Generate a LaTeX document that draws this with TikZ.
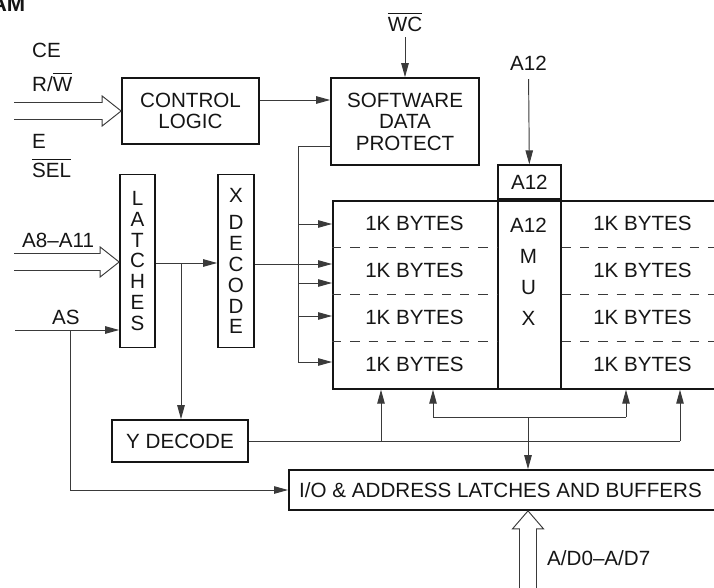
\documentclass[tikz,border=0pt]{standalone}
\usepackage{fontspec}
\setmainfont{Liberation Sans}
\usetikzlibrary{arrows.meta}
\definecolor{boxc}{HTML}{151515}
\definecolor{linec}{HTML}{3A3A3A}
\definecolor{txt}{HTML}{151515}
\newcommand\myovl[1]{\setbox0\hbox{#1}\rlap{\raisebox{\dimexpr\ht0+3.5pt\relax}{\rule{\wd0}{1.1pt}}}\box0}
\tikzset{
  box/.style={draw=boxc, line width=1.7pt, inner sep=0pt, text=txt},
  conn/.style={draw=linec, line width=0.95pt},
  arr/.style={conn, -{Triangle[length=14pt,width=7.5pt]}},
  lbl/.style={inner sep=0pt, text=txt},
  dashline/.style={draw=linec, line width=0.9pt, dash pattern=on 9.3pt off 9pt},
}
\begin{document}
\begin{tikzpicture}[x=1pt,y=-1pt,font=\fontsize{20.6}{21.5}\selectfont]
\useasboundingbox (0,0) rectangle (714,588);
\clip (0,0) rectangle (714,588);

% title fragment
\node[lbl, anchor=base east, font=\fontsize{22}{24}\selectfont\bfseries] (title) at (25.5,12) {AM};

% boxes
\node[box, minimum width=137pt, minimum height=66pt, align=center] (ctrl) at (190.5,111) {CONTROL\\LOGIC};
\node[box, minimum width=148pt, minimum height=87pt, align=center] (sdp) at (405,121.5) {SOFTWARE\\DATA\\PROTECT};
\node[box, minimum width=35pt, minimum height=173pt, align=center, font=\fontsize{20.6}{20.7}\selectfont] (latch) at (137.5,261) {L\\A\\T\\C\\H\\E\\S};
\node[box, minimum width=36pt, minimum height=173pt, align=center, font=\fontsize{20.6}{20.8}\selectfont] (xdec) at (236,261) {X\\[7pt]D\\E\\C\\O\\D\\E};
\node[box, minimum width=398pt, minimum height=188pt, anchor=north west] (mem) at (332,200) {};
\node[box, minimum width=63pt, minimum height=188pt, anchor=north west] (mux) at (497,200) {};
\node[lbl, align=center, font=\fontsize{20.6}{31}\selectfont] (muxtext) at (528.5,271.5) {A12\\M\\U\\X};
\node[box, minimum width=63pt, minimum height=34pt, anchor=south west] (a12b) at (497,200) {A12};
\node[box, minimum width=136pt, minimum height=42pt] (ydec) at (180,441) {Y DECODE};
\node[box, minimum width=442pt, minimum height=40pt, anchor=west] (io) at (288,490) {};
\node[lbl] (iotext) at (500.5,490.5) {I/O \& ADDRESS LATCHES AND BUFFERS};

% memory cells
\foreach \y [count=\i] in {223,270,317,364} {
  \node[lbl] (cl\i) at (414.5,\y) {1K BYTES};
  \node[lbl] (cr\i) at (642.5,\y) {1K BYTES};
}
\foreach \y in {247,294,341} {
  \draw[dashline] (mem.west |- 0,\y) -- (mux.west |- 0,\y);
  \draw[dashline] (mux.east |- 0,\y) -- (mem.east |- 0,\y);
}

% labels
\node[lbl, anchor=base west] (ce) at (32,58) {CE};
\node[lbl, anchor=base west] (rw) at (32,92) {R/\myovl{W}};
\node[lbl, anchor=base west] (e) at (32,149) {E};
\node[lbl, anchor=base west] (sel) at (32,178) {\myovl{SEL}};
\node[lbl, anchor=base west] (a8) at (22,247) {A8–A11};
\node[lbl, anchor=base west] (as) at (52,324) {AS};
\node[lbl, anchor=base] (wc) at (405,32) {\myovl{WC}};
\node[lbl, anchor=base] (a12l) at (528.5,71) {A12};
\node[lbl, anchor=base west] (ad) at (547,565) {A/D0–A/D7};

% hollow bus arrows
\draw[conn] (ctrl.west) ++(-107,-8.5) -- ++(88,0) -- ++(0,-6.5) -- (ctrl.west) -- ++(-19,15) -- ++(0,-6.5) -- ++(-88,0);
\coordinate (lt) at (latch.west |- 0,262);
\draw[conn] (lt) ++(-105,-8.5) -- ++(86,0) -- ++(0,-6.5) -- (lt) -- ++(-19,15) -- ++(0,-6.5) -- ++(-86,0);

% control connections
\draw[arr] (ctrl.east |- 0,100) -- (sdp.west |- 0,100);
\draw[arr, shorten <=5pt] (wc.south) -- (sdp.north);
\draw[arr, shorten <=8pt] (a12l.south) -- (a12b.north);

% SDP bus to memory
\coordinate (bt) at (298,362);
\draw[conn] (sdp.west |- 0,146) -| (bt);
\foreach \y in {224,283,316,362} \draw[arr] (bt |- 0,\y) -- (mem.west |- 0,\y);

% address path
\draw[arr] (latch.east |- 0,263) -- (xdec.west |- 0,263);
\draw[arr] (xdec.east |- 0,264) -- (mem.west |- 0,264);
\coordinate (lb) at (181,263);
\draw[arr] (lb) -- (lb |- ydec.north);

% AS
\coordinate (asin) at (15,330);
\draw[arr] (asin) -- (latch.west |- asin);
\coordinate (asb) at (70,330);
\draw[arr] (asb) |- (io.west);

% Y decode outputs
\coordinate (yl) at (381,441);
\coordinate (yr) at (680,441);
\draw[conn] (ydec.east) -- (yr);
\draw[arr] (yl) -- (yl |- mem.south);
\draw[arr] (yr) -- (yr |- mem.south);

% data bus
\coordinate (bl) at (433,417);
\coordinate (br) at (626,417);
\coordinate (bm) at (528,417);
\draw[conn] (bl) -- (br);
\draw[arr] (bl) -- (bl |- mem.south);
\draw[arr] (br) -- (br |- mem.south);
\draw[arr] (bm) -- (bm |- io.north);

% A/D hollow arrow
\coordinate (adt) at (bm |- io.south);
\draw[conn] (adt) ++(-8.5,90) -- ++(0,-72) -- ++(-7,0) -- (adt) -- ++(15.5,18) -- ++(-7,0) -- ++(0,72);
\end{tikzpicture}
\end{document}
